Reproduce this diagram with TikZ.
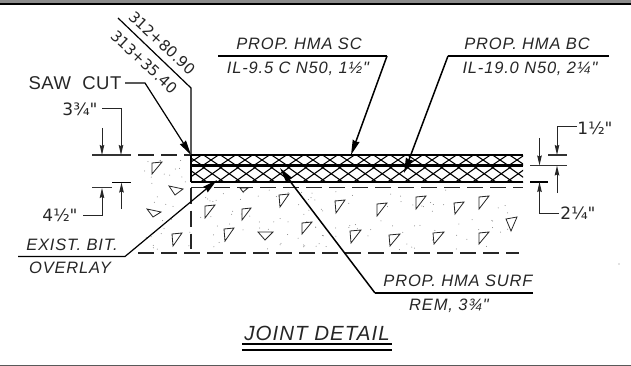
\documentclass[tikz,border=0pt]{standalone}
\usepackage{fontspec}
\setmainfont{DejaVu Sans}
\newfontfamily\labelfont[LetterSpace=5,Ligatures=NoCommon]{Liberation Sans Italic}
\newfontfamily\sawfont[LetterSpace=3]{Liberation Sans}
\newfontfamily\dimfont{DejaVu Sans}
\usetikzlibrary{arrows.meta}
\tikzset{
  leader/.style={line width=1.2pt,black},
  heavy/.style={line width=1.5pt,black},
  tiplarge/.style={-{Stealth[length=15pt,width=7pt,inset=1pt]}},
  tipsmall/.style={-{Stealth[length=10pt,width=4.5pt,inset=1pt]}},
  dimline/.style={line width=1pt,black!85},
  dashline/.style={line width=1.2pt,black!85,dash pattern=on 16pt off 7pt},
  tick/.style={line width=1.4pt,black!80},
  aggregate/.style={line width=0.8pt,black!85},
  hatchline/.style={line width=1.1pt,black},
  calltext/.style={font=\fontsize{16.5}{19}\selectfont\labelfont,inner sep=0pt,text=black!85},
  dimtext/.style={font=\fontsize{17}{20}\selectfont\dimfont,inner sep=0pt,text=black!85},
  stationtext/.style={font=\fontsize{15}{18}\selectfont\dimfont,inner sep=0pt,text=black!85,rotate=-43},
  grain/.style={fill=black!50}
}
\begin{document}
\begin{tikzpicture}[x=1pt,y=-1pt]
\useasboundingbox (0,0) rectangle (631,366);
% frame bands
\fill[black!45] (0,0) rectangle (631,3);
\fill[black] (0,3) rectangle (631,5);
\fill[black!65] (0,365) rectangle (631,366);
% grains of the aggregate
\pgfmathsetseed{41}
\foreach \i in {1,...,130}{
  \pgfmathsetmacro{\gx}{143+rnd*378}
  \pgfmathsetmacro{\gy}{190+rnd*60}
  \fill[grain] (\gx,\gy) circle (0.5);
}
\foreach \i in {1,...,14}{
  \pgfmathsetmacro{\gx}{143+rnd*47}
  \pgfmathsetmacro{\gy}{159+rnd*28}
  \fill[grain] (\gx,\gy) circle (0.5);
}
\fill[grain] (619,264) circle (0.6);
% hatch
\begin{scope}
  \clip (191,155) rectangle (523,165.5);
  \foreach \k in {0,...,20}{
    \draw[hatchline] ({190+17*\k-8},152) -- ({190+17*\k+8+8},168);
    \draw[hatchline] ({190+17*\k+8+8},152) -- ({190+17*\k-8},168);
  }
\end{scope}
\begin{scope}
  \clip (191,165.5) rectangle (523,182);
  \foreach \k in {0,...,20}{
    \draw[hatchline] ({191+17*\k-9.5},164) -- ({191+17*\k+9.5+8.5},183.5);
    \draw[hatchline] ({191+17*\k+9.5+8.5},164) -- ({191+17*\k-9.5},183.5);
  }
\end{scope}
% asphalt layers
\coordinate (tl) at (191,155); \coordinate (tr) at (523,155);
\coordinate (ml) at (191,165.5); \coordinate (mr) at (523,165.5);
\coordinate (bl) at (191,182); \coordinate (br) at (523,182);
\draw[line width=2.4pt] (tl) -- (tr);
\draw[line width=2.4pt] (ml) -- (mr);
\draw[line width=2.4pt] (bl) -- (br);
\draw[line width=2.4pt] (tl) -- (bl);
% existing pavement dashes
\coordinate (dA) at (138,155); \coordinate (dB) at (190,155);
\draw[dashline] (dA) -- (dB);
\coordinate (dC) at (191,187.5); \coordinate (dD) at (523,187.5);
\draw[dashline] (dC) -- (dD);
\coordinate (dE) at (138,253); \coordinate (dF) at (519,253);
\draw[dashline] (dE) -- (dF);
\coordinate (dG) at (191,187.5); \coordinate (dH) at (191,249);
\draw[dashline] (dG) -- (dH);
\coordinate (dI) at (92,187.5); \coordinate (dJ) at (112,187.5);
\draw[tick] (dI) -- (dJ);
% aggregate triangles
\foreach \a/\b/\c/\d/\e/\f in {
 152/163/162/162/152/174,169/186/183/189/175/195,147/209/161/212/153/217,
 172/234/182/233/173/246,205/206/215/205/205/218,242/209/251/208/242/220,
 279/195/289/194/280/207,224/229/234/228/225/241,258/232/273/232/265/240,
 302/223/312/222/302/234,335/201/345/200/336/213,377/204/387/203/377/216,
 416/197/426/196/416/209,454/203/464/202/455/214,479/197/489/196/479/209,
 506/219/517/217/511/231,350/231/361/230/351/243,389/235/400/234/390/246,
 433/233/444/232/434/244,479/233/489/232/479/244,240/188/248/188/243/192}{
  \draw[aggregate,fill=white] (\a,\b) -- (\c,\d) -- (\e,\f) -- cycle;
}
% station labels
\coordinate (stA) at (118,18); \coordinate (stB) at (191,88);
\draw[leader] (stA) -- (stB) -- (tl);
\node[stationtext] (sta1) at (162,43) {312+80.90};
\node[stationtext] (sta2) at (144,62) {313+35.40};
% saw cut
\node[dimtext,font=\fontsize{18.5}{21}\selectfont\sawfont] (saw) at (75,83) {SAW\hspace{0.3em} CUT};
\coordinate (sawA) at (125,83); \coordinate (sawB) at (145,83);
\draw[leader,tiplarge] (sawA) -- (sawB) -- (tl);
% left dimensions
\coordinate (lA) at (92,155); \coordinate (lB) at (131,155);
\draw[tick] (lA) -- (lB);
\node[dimtext] (d34) at (80,109) {3¾"};
\coordinate (a1) at (102,109); \coordinate (a2) at (121,109); \coordinate (a3) at (121,155);
\draw[dimline,tipsmall] (a1) -- (a2) -- (a3);
\coordinate (b1) at (102,128); \coordinate (b2) at (102,155);
\draw[dimline,tipsmall] (b1) -- (b2);
\node[dimtext] (d12) at (60,215) {4½"};
\coordinate (c1) at (83,215); \coordinate (c2) at (102,215); \coordinate (c3) at (102,188);
\draw[dimline,tipsmall] (c1) -- (c2) -- (c3);
\coordinate (e1) at (112,182.5); \coordinate (e2) at (131,182.5);
\draw[tick,black] (e1) -- (e2);
\coordinate (f1) at (121.5,209); \coordinate (f2) at (121.5,182.5);
\draw[dimline,tipsmall] (f1) -- (f2);
% existing overlay
\coordinate (ovA) at (18,256.5); \coordinate (ovB) at (125,256.5); \coordinate (ovC) at (217,180);
\draw[leader,tiplarge] (ovA) -- (ovB) -- (ovC);
\node[calltext] (ov1) at (72,245) {EXIST. BIT.};
\node[calltext] (ov2) at (70,268) {OVERLAY};
% SC
\coordinate (scA) at (218,56); \coordinate (scB) at (387,56); \coordinate (scC) at (351,155);
\draw[heavy] (scA) -- (scB);
\draw[heavy,tiplarge] (scB) -- (scC);
\node[calltext] (sc1) at (299,44) {PROP. HMA SC};
\node[calltext] (sc2) at (298,69) {IL-9.5 C N50, 1½"};
% BC
\coordinate (bcA) at (609,56); \coordinate (bcB) at (448,56); \coordinate (bcC) at (404,173);
\draw[heavy] (bcA) -- (bcB);
\draw[heavy,tiplarge] (bcB) -- (bcC);
\node[calltext] (bc1) at (527,44) {PROP. HMA BC};
\node[calltext] (bc2) at (530,69) {IL-19.0 N50, 2¼"};
% SURF
\coordinate (suA) at (533,293); \coordinate (suB) at (375,293); \coordinate (suC) at (280,168);
\draw[heavy] (suA) -- (suB);
\draw[heavy,tiplarge] (suB) -- (suC);
\node[calltext] (su1) at (458,281) {PROP. HMA SURF};
\node[calltext] (su2) at (449,306) {REM, 3¾"};
% right dimensions
\coordinate (r1) at (548,155); \coordinate (r2) at (567,155);
\draw[tick] (r1) -- (r2);
\coordinate (r3) at (530,165.5); \coordinate (r4) at (567,165.5);
\draw[tick] (r3) -- (r4);
\coordinate (r5) at (530,182); \coordinate (r6) at (548,182);
\draw[tick,black] (r5) -- (r6);
\coordinate (p1) at (539.5,138); \coordinate (p2) at (539.5,165.5);
\draw[dimline,tipsmall] (p1) -- (p2);
\coordinate (q1) at (577,127); \coordinate (q2) at (557,127); \coordinate (q3) at (557,155);
\draw[dimline,tipsmall] (q1) -- (q2) -- (q3);
\coordinate (s1) at (557,193); \coordinate (s2) at (557,165.5);
\draw[dimline,tipsmall] (s1) -- (s2);
\coordinate (u1) at (559,213); \coordinate (u2) at (539.5,213); \coordinate (u3) at (539.5,182);
\draw[dimline,tipsmall] (u1) -- (u2) -- (u3);
\node[dimtext] (rt12) at (595,128) {1½"};
\node[dimtext] (rt14) at (578,213) {2¼"};
% title
\node[calltext,font=\fontsize{20.5}{23}\selectfont\labelfont] (title) at (317,333) {JOINT DETAIL};
\coordinate (tA) at (242,344); \coordinate (tB) at (392,344);
\coordinate (tC) at (242,350); \coordinate (tD) at (392,350);
\draw[line width=2pt] (tA) -- (tB);
\draw[line width=2pt] (tC) -- (tD);
\end{tikzpicture}
\end{document}
